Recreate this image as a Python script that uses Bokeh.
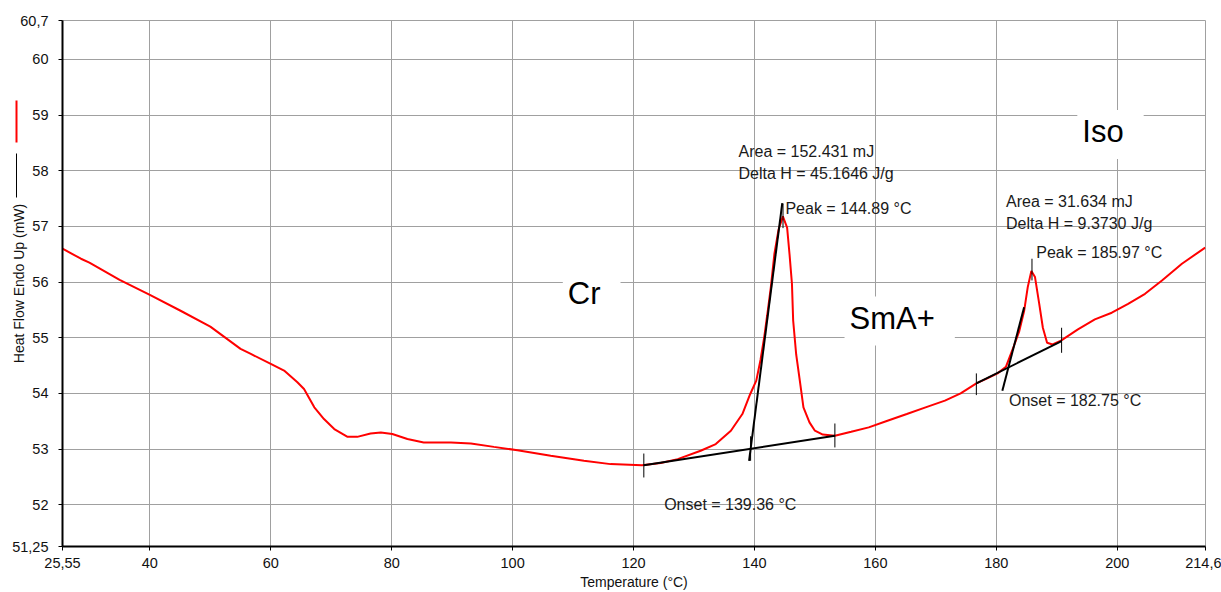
import math
from bokeh.plotting import figure
from bokeh.models import Label, FixedTicker, Range1d, LinearAxis
from bokeh.embed import file_html
from bokeh.resources import INLINE

# ---- data ----
temperature = [25.55, 28.6, 30.0, 35.0, 40.0, 45.0, 50.0, 55.0, 56.7, 60.0, 62.2, 64.4, 65.5,
               67.2, 68.8, 70.5, 72.7, 74.3, 76.5, 78.2, 80.1, 82.6, 85.3, 89.8, 93.1, 96.9,
               100.8, 106.3, 111.8, 116.2, 121.4, 124.5, 127.3, 131.1, 133.6, 136.1, 138.0,
               139.3, 140.3, 141.0, 141.6, 142.1, 142.7, 143.3, 144.0, 144.7, 145.4, 145.8,
               146.2, 146.4, 146.9, 147.5, 148.1, 149.1, 150.0, 151.3, 153.3, 156.0, 158.9,
               162.0, 165.2, 168.3, 171.5, 174.1, 176.7, 178.5, 180.2, 181.6, 182.9, 183.8,
               184.6, 185.2, 185.8, 186.4, 187.1, 187.7, 188.4, 189.3, 190.7, 193.5, 196.3,
               199.1, 201.8, 204.6, 207.4, 210.7, 214.55]
heat_flow = [56.60, 56.42, 56.35, 56.04, 55.77, 55.49, 55.20, 54.80, 54.71, 54.53, 54.41,
             54.20, 54.08, 53.75, 53.54, 53.36, 53.22, 53.22, 53.28, 53.30, 53.27, 53.18,
             53.12, 53.12, 53.10, 53.04, 52.98, 52.88, 52.79, 52.73, 52.71, 52.75, 52.82,
             52.97, 53.09, 53.33, 53.63, 53.99, 54.23, 54.60, 55.00, 55.40, 55.90, 56.51,
             56.95, 57.18, 56.98, 56.50, 55.97, 55.31, 54.70, 54.23, 53.75, 53.48, 53.33,
             53.26, 53.24, 53.31, 53.39, 53.51, 53.63, 53.75, 53.87, 54.00, 54.18, 54.27,
             54.36, 54.48, 54.85, 55.12, 55.48, 55.91, 56.20, 56.09, 55.61, 55.18, 54.91,
             54.88, 54.95, 55.15, 55.33, 55.45, 55.61, 55.79, 56.03, 56.33, 56.62]

# baselines and tangents (black construction lines)
baseline_t0 = [121.7, 176.7]
baseline_h0 = [52.71, 54.18]
baseline_t1 = [153.3, 190.8]
baseline_h1 = [53.24, 54.94]
tangent_t0 = [139.11, 181.0]
tangent_h0 = [52.79, 54.05]
tangent_t1 = [144.6, 184.6]
tangent_h1 = [57.42, 55.55]

# small vertical marker ticks
marker_t = [121.7, 153.3, 139.36, 144.72, 176.7, 190.8, 185.9]
marker_lo = [52.49, 53.03, 52.79, 56.97, 53.97, 54.73, 56.03]
marker_hi = [52.92, 53.46, 53.23, 57.41, 54.36, 55.18, 56.42]

# annotation texts
note_texts = ["Area = 152.431 mJ", "Delta H = 45.1646 J/g", "Peak = 144.89 °C",
              "Onset = 139.36 °C", "Area = 31.634 mJ", "Delta H = 9.3730 J/g",
              "Peak = 185.97 °C", "Onset = 182.75 °C"]
note_t = [137.36, 137.36, 145.12, 125.06, 181.6, 181.6, 186.6, 182.1]
note_h = [58.35, 57.96, 57.32, 52.01, 57.44, 57.06, 56.53, 53.87]

phase_texts = ["Cr", "SmA+", "Iso"]
phase_t = [108.3, 154.9, 193.4]
phase_h = [55.74, 55.30, 58.65]

# legend marks beside the y axis (series colour, extent in heat-flow units)
legend_colors = ["red", "black"]
legend_widths = [2, 1]
legend_lo = [58.51, 57.52]
legend_hi = [59.26, 58.31]

x_ticks = [25.55, 40, 60, 80, 100, 120, 140, 160, 180, 200, 214.6]
x_tick_labels = ["25,55", "40", "60", "80", "100", "120", "140", "160", "180", "200", "214,6"]
y_ticks = [51.25, 52, 53, 54, 55, 56, 57, 58, 59, 60, 60.7]
y_tick_labels = ["51,25", "52", "53", "54", "55", "56", "57", "58", "59", "60", "60,7"]

FONT = "Liberation Sans"

p = figure(width=1221, height=592, x_range=Range1d(25.55, 214.6), y_range=Range1d(51.25, 60.7),
           output_backend="svg", toolbar_location=None,
           min_border_left=62, min_border_right=16, min_border_top=20, min_border_bottom=46)
p.background_fill_color = "white"
p.border_fill_color = "white"
p.outline_line_color = "#a0a0a0"

for ax, ticks, labels in ((p.xaxis, x_ticks, x_tick_labels), (p.yaxis, y_ticks, y_tick_labels)):
    ax.ticker = FixedTicker(ticks=ticks)
    ax.major_label_overrides = {t: l for t, l in zip(ticks, labels)}
    ax.major_tick_in = 0
    ax.major_tick_out = 4
    ax.minor_tick_line_color = None
    ax.axis_line_color = "black"
    ax.axis_line_width = 2
    ax.major_tick_line_color = "black"
    ax.major_label_text_font = FONT
    ax.major_label_text_font_size = "14.5px"
    ax.major_label_text_color = "#111111"

p.xaxis.major_label_standoff = 7
p.yaxis.major_label_standoff = 10
p.xaxis.axis_label = "Temperature (°C)"
p.xaxis.axis_label_text_font = FONT
p.xaxis.axis_label_text_font_size = "14px"
p.xaxis.axis_label_text_font_style = "normal"
p.xaxis.axis_label_standoff = 3
p.xaxis.axis_label_text_color = "#111111"

# blank spacer label on the main y axis so that the next panels sit at x ~ 17 px
p.yaxis.axis_label = " "
p.yaxis.axis_label_text_font = FONT
p.yaxis.axis_label_text_font_size = "14px"
p.yaxis.axis_label_standoff = -26

p.grid.grid_line_color = "#a0a0a0"
p.grid.grid_line_width = 1

# legend marks as bounded, zero-width extra axes on the left
for col, w, lo, hi in zip(legend_colors, legend_widths, legend_lo, legend_hi):
    mid = round((lo + hi) / 2, 3)
    ax = LinearAxis(bounds=(lo, hi), ticker=FixedTicker(ticks=[mid]),
                    axis_line_color=col, axis_line_width=w,
                    major_tick_line_color=None, minor_tick_line_color=None,
                    major_tick_out=0, major_tick_in=0, minor_tick_out=0, minor_tick_in=0,
                    major_label_standoff=0, major_label_overrides={mid: ""},
                    major_label_text_font_size="1px")
    p.add_layout(ax, "left")

# axis carrying the y title
title_axis = LinearAxis(ticker=FixedTicker(ticks=[]), axis_line_color=None,
                        major_tick_line_color=None, minor_tick_line_color=None,
                        major_tick_out=0, major_tick_in=0, minor_tick_out=0, minor_tick_in=0,
                        major_label_standoff=0, major_label_text_font_size="1px",
                        axis_label="Heat Flow Endo Up (mW)", axis_label_text_font=FONT,
                        axis_label_text_font_size="14px", axis_label_text_font_style="normal",
                        axis_label_text_color="#111111", axis_label_standoff=-10)
p.add_layout(title_axis, "left")

# DSC curve
p.line(temperature, heat_flow, line_color="red", line_width=2)
# construction lines
p.segment(baseline_t0, baseline_h0, baseline_t1, baseline_h1, line_color="black", line_width=2)
p.segment(tangent_t0, tangent_h0, tangent_t1, tangent_h1, line_color="black", line_width=2)
p.segment(marker_t, marker_lo, marker_t, marker_hi, line_color="black", line_width=1)

for txt, t, h in zip(note_texts, note_t, note_h):
    p.add_layout(Label(x=t, y=h, text=txt, text_font=FONT, text_font_size="16px",
                       text_color="#1a1a1a", text_align="left", text_baseline="alphabetic"))

for txt, t, h in zip(phase_texts, phase_t, phase_h):
    p.add_layout(Label(x=t, y=h, text=txt, text_font=FONT, text_font_size="31px",
                       text_color="black", text_align="left", text_baseline="alphabetic",
                       background_fill_color="white",
                       padding=dict(left=5, right=20, top=4, bottom=10)))

open("out.html", "w").write(file_html(p, INLINE))
